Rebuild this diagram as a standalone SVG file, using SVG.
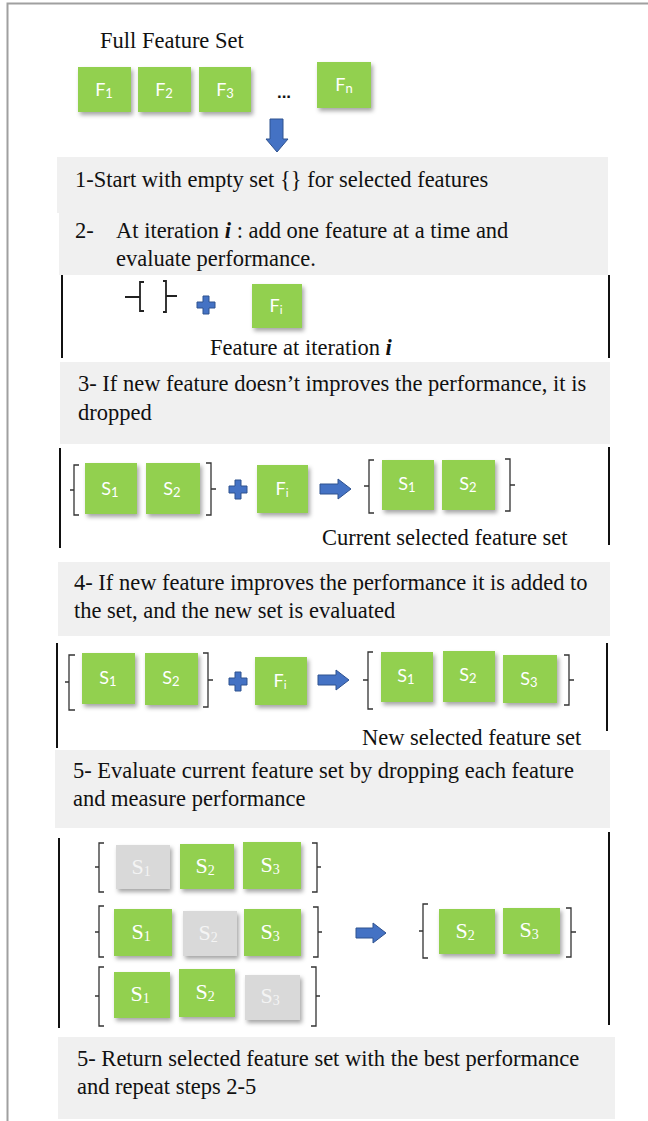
<svg xmlns="http://www.w3.org/2000/svg" width="648" height="1121" viewBox="0 0 648 1121">
<defs>
<filter id="sh" x="-20%" y="-20%" width="150%" height="150%">
<feDropShadow dx="2" dy="3" stdDeviation="2" flood-color="#000" flood-opacity="0.35"/>
</filter>
<style>
.g{fill:#92D050;filter:url(#sh)}
.gr{fill:#D9D9D9;filter:url(#sh)}
.lb{font-family:Lato,"Open Sans",sans-serif;font-size:18px;fill:#fff;text-anchor:middle}
.sl{font-family:"Liberation Serif",serif;font-size:22px;fill:#fff;text-anchor:middle}
.sg{fill:#F4F4F4}
.t{font-family:"Liberation Serif",serif;font-size:22.5px;fill:#111}
.p{fill:#F0F0F0}
.vl{stroke:#111;stroke-width:2}
.br{fill:none;stroke:#333;stroke-width:1.3}
.bl{fill:#4472C4;stroke:#2F528F;stroke-width:1}
</style>
</defs>
<rect width="648" height="1121" fill="#fff"/>
<path d="M7.5,1121 V3.5 H648" fill="none" stroke="#A0A0A0" stroke-width="2"/>

<g id="panels">
<rect class="p" x="57" y="157" width="551" height="56"/>
<rect class="p" x="59" y="212" width="549" height="63"/>
<rect class="p" x="60" y="362" width="550" height="82"/>
<rect class="p" x="58" y="562" width="552" height="74"/>
<rect class="p" x="55" y="750" width="555" height="78"/>
<rect class="p" x="58" y="1037" width="557" height="82"/>
</g>

<g id="texts">
<text class="t" x="100" y="48">Full Feature Set</text>
<text class="t" x="75" y="187">1-Start with empty set {}  for selected features</text>
<text class="t" x="75" y="238">2-</text>
<text class="t" x="116" y="238">At iteration <tspan font-weight="bold" font-style="italic">i</tspan> : add one feature at a time and</text>
<text class="t" x="116" y="266">evaluate performance.</text>
<text class="t" x="210" y="355">Feature at iteration <tspan font-weight="bold" font-style="italic">i</tspan></text>
<text class="t" x="78" y="391">3- If new feature doesn’t improves the performance, it is</text>
<text class="t" x="78" y="420">dropped</text>
<text class="t" x="322" y="545">Current selected feature set</text>
<text class="t" x="74" y="590">4- If new feature improves the performance it is added to</text>
<text class="t" x="74" y="618">the set, and the new set is evaluated</text>
<text class="t" x="362" y="745">New selected feature set</text>
<text class="t" x="73" y="778">5- Evaluate current feature set by dropping each feature</text>
<text class="t" x="73" y="806">and measure performance</text>
<text class="t" x="77" y="1066">5- Return selected feature set with the best performance</text>
<text class="t" x="77" y="1094">and repeat steps 2-5</text>
</g>

<g id="dividers">
<line class="vl" x1="62" y1="275" x2="62" y2="358"/>
<line class="vl" x1="609" y1="275" x2="609" y2="358"/>
<line class="vl" x1="60" y1="448" x2="60" y2="548"/>
<line class="vl" x1="609" y1="447" x2="609" y2="545"/>
<line class="vl" x1="57" y1="643" x2="57" y2="748"/>
<line class="vl" x1="607" y1="643" x2="607" y2="731"/>
<line class="vl" x1="59" y1="838" x2="59" y2="1028"/>
<line class="vl" x1="609" y1="832" x2="609" y2="1025"/>
</g>

<g id="full-set">
<g id="F1"><rect class="g" x="78" y="67" width="53" height="45"/><text class="lb" x="104" y="96">F<tspan font-size="13" dy="2">1</tspan></text></g>
<g id="F2"><rect class="g" x="138" y="67" width="53" height="45"/><text class="lb" x="164" y="96">F<tspan font-size="13" dy="2">2</tspan></text></g>
<g id="F3"><rect class="g" x="199" y="67" width="52" height="45"/><text class="lb" x="225" y="96">F<tspan font-size="13" dy="2">3</tspan></text></g>
<text x="284" y="98" font-family="Liberation Sans,sans-serif" font-size="17" font-weight="bold" fill="#111" text-anchor="middle">...</text>
<g id="Fn"><rect class="g" x="317" y="62" width="54" height="46"/><text class="lb" x="344" y="91">F<tspan font-size="13" dy="2">n</tspan></text></g>
</g>

<g id="connectors">
<path class="bl" d="M270,119 H283 V139 H288 L277,152 L266,139 H270 Z"/>
<path class="bl" d="M320,484 H338 V479 L351,489 L338,499 V494 H320 Z"/>
<path class="bl" d="M318,675 H336 V670 L349,680 L336,690 V685 H318 Z"/>
<path class="bl" d="M356,928 H373 V923 L386,933 L373,943 V938 H356 Z"/>
</g>

<g id="step2">
<path d="M125,297 H140 M144,282 H140 V311 H144 M163,281 H166 V312 H163 M166,296 H177" fill="none" stroke="#222" stroke-width="1.8"/>
<path class="bl" d="M202,300 H208 V294 H214 V300 H220 V306 H214 V312 H208 V306 H202 Z" transform="translate(-5,2)"/>
<g id="Fi-2"><rect class="g" x="252" y="284" width="50" height="44"/><text class="lb" x="276" y="312">F<tspan font-size="12" dy="2">i</tspan></text></g>
</g>

<g id="step3">
<path class="br" d="M79,465 H74 V515 H79 M70,490 H74 M206,463 H211 V515 H206 M211,489 H216"/>
<g id="S1-3"><rect class="g" x="85" y="463" width="52" height="51"/><text class="lb" x="110" y="495">S<tspan font-size="13" dy="2">1</tspan></text></g>
<g id="S2-3"><rect class="g" x="146" y="463" width="54" height="51"/><text class="lb" x="172" y="495">S<tspan font-size="13" dy="2">2</tspan></text></g>
<path class="bl" d="M235,480 H241 V486 H247 V493 H241 V499 H235 V493 H229 V486 H235 Z"/>
<g id="Fi-3"><rect class="g" x="257" y="465" width="51" height="48"/><text class="lb" x="282" y="495">F<tspan font-size="12" dy="2">i</tspan></text></g>
<path class="br" d="M374,460 H369 V513 H374 M364,486 H369 M505,459 H510 V511 H505 M510,485 H515"/>
<g id="S1-3b"><rect class="g" x="382" y="460" width="52" height="50"/><text class="lb" x="407" y="490">S<tspan font-size="13" dy="2">1</tspan></text></g>
<g id="S2-3b"><rect class="g" x="442" y="460" width="53" height="50"/><text class="lb" x="468" y="490">S<tspan font-size="13" dy="2">2</tspan></text></g>
</g>

<g id="step4">
<path class="br" d="M75,655 H69 V710 H75 M65,682 H69 M203,653 H208 V707 H203 M208,680 H213"/>
<g id="S1-4"><rect class="g" x="82" y="653" width="53" height="51"/><text class="lb" x="108" y="684">S<tspan font-size="13" dy="2">1</tspan></text></g>
<g id="S2-4"><rect class="g" x="145" y="653" width="53" height="52"/><text class="lb" x="171" y="684">S<tspan font-size="13" dy="2">2</tspan></text></g>
<path class="bl" d="M235,672 H241 V678 H247 V685 H241 V691 H235 V685 H229 V678 H235 Z"/>
<g id="Fi-4"><rect class="g" x="255" y="657" width="52" height="48"/><text class="lb" x="280" y="687">F<tspan font-size="12" dy="2">i</tspan></text></g>
<path class="br" d="M373,652 H368 V709 H373 M363,680 H368 M564,655 H569 V705 H564 M569,680 H574"/>
<g id="S1-4b"><rect class="g" x="381" y="652" width="52" height="50"/><text class="lb" x="406" y="682">S<tspan font-size="13" dy="2">1</tspan></text></g>
<g id="S2-4b"><rect class="g" x="443" y="651" width="52" height="51"/><text class="lb" x="468" y="681">S<tspan font-size="13" dy="2">2</tspan></text></g>
<g id="S3-4b"><rect class="g" x="503" y="655" width="54" height="48"/><text class="lb" x="529" y="685">S<tspan font-size="13" dy="2">3</tspan></text></g>
</g>

<g id="step5">
<path class="br" d="M104,843 H99 V892 H104 M95,867 H99 M312,843 H317 V892 H312 M317,867 H321"/>
<g id="r1-S1"><rect class="gr" x="116" y="845" width="54" height="44"/><text class="sl sg" x="141" y="874">S<tspan font-size="14" dy="2">1</tspan></text></g>
<g id="r1-S2"><rect class="g" x="180" y="844" width="54" height="45"/><text class="sl" x="205" y="873">S<tspan font-size="14" dy="2">2</tspan></text></g>
<g id="r1-S3"><rect class="g" x="243" y="842" width="58" height="47"/><text class="sl" x="270" y="872">S<tspan font-size="14" dy="2">3</tspan></text></g>

<path class="br" d="M104,906 H99 V957 H104 M95,932 H99 M313,907 H318 V957 H313 M318,932 H322"/>
<g id="r2-S1"><rect class="g" x="114" y="909" width="58" height="47"/><text class="sl" x="141" y="939">S<tspan font-size="14" dy="2">1</tspan></text></g>
<g id="r2-S2"><rect class="gr" x="183" y="911" width="54" height="45"/><text class="sl sg" x="208" y="940">S<tspan font-size="14" dy="2">2</tspan></text></g>
<g id="r2-S3"><rect class="g" x="244" y="909" width="57" height="47"/><text class="sl" x="270" y="939">S<tspan font-size="14" dy="2">3</tspan></text></g>

<path class="br" d="M104,967 H99 V1026 H104 M95,996 H99 M311,967 H316 V1026 H311 M316,996 H320"/>
<g id="r3-S1"><rect class="g" x="114" y="972" width="56" height="46"/><text class="sl" x="140" y="1001">S<tspan font-size="14" dy="2">1</tspan></text></g>
<g id="r3-S2"><rect class="g" x="179" y="969" width="56" height="48"/><text class="sl" x="205" y="999">S<tspan font-size="14" dy="2">2</tspan></text></g>
<g id="r3-S3"><rect class="gr" x="245" y="975" width="55" height="45"/><text class="sl sg" x="270" y="1003">S<tspan font-size="14" dy="2">3</tspan></text></g>

<path class="br" d="M428,904 H423 V958 H428 M419,931 H423 M566,908 H571 V957 H566 M571,932 H576"/>
<g id="res-S2"><rect class="g" x="439" y="909" width="56" height="45"/><text class="sl" x="465" y="938">S<tspan font-size="14" dy="2">2</tspan></text></g>
<g id="res-S3"><rect class="g" x="503" y="908" width="57" height="46"/><text class="sl" x="529" y="937">S<tspan font-size="14" dy="2">3</tspan></text></g>
</g>
</svg>
